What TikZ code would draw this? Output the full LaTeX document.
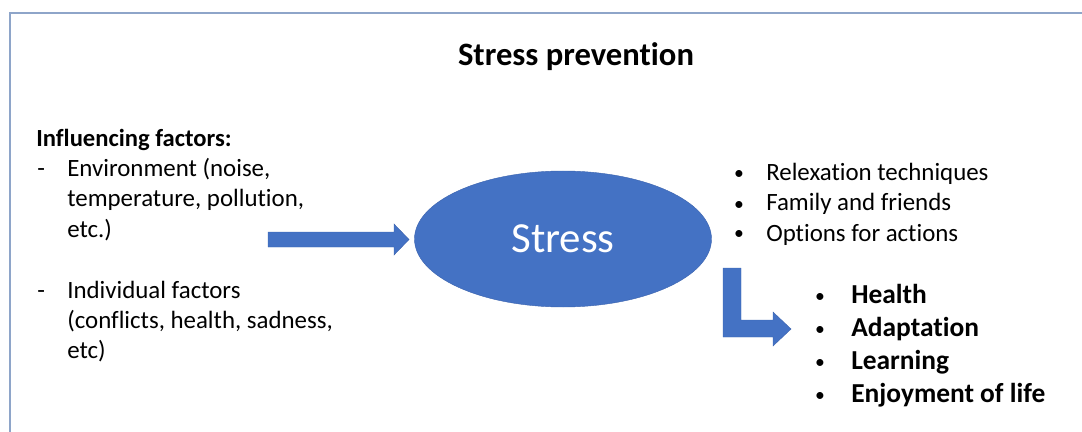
\documentclass[tikz,border=0pt]{standalone}
\usepackage{fontspec}
\setmainfont{Carlito}[Ligatures=NoCommon]
\usetikzlibrary{shapes.geometric}
\definecolor{stressblue}{RGB}{68,114,196}
\definecolor{stressline}{RGB}{60,100,175}
\definecolor{framecol}{RGB}{142,165,201}
\begin{document}
\begin{tikzpicture}[x=0.025cm,y=-0.025cm]
		\tikzset{txt/.style = {anchor=base west, inner sep=0pt, font=\fontsize{17.7}{21.3}\selectfont}}
		\tikzset{boldtxt/.style = {txt, font=\bfseries\fontsize{19.5}{23.5}\selectfont}}
		\tikzset{dot/.style = {anchor=base, inner sep=0pt, font=\fontsize{14}{21.3}\selectfont}}
		\tikzset{blockarrow/.style = {fill=stressblue, draw=stressline, line width=0.3pt}}
		\useasboundingbox (0,0) rectangle (1082,432);
		% frame
		\draw[framecol, line width=1.1pt] (10,432) -- (10,13) -- (1082,13);
		\node[anchor=base, inner sep=0pt, font=\bfseries\fontsize{23.2}{28}\selectfont] (title) at (576,66) {Stress prevention};
		% left side
		\node[txt, font=\bfseries\fontsize{17.5}{21.3}\selectfont] (factors) at (36,147) {Influencing factors:};
		\node[txt] (dash1) at (37,177) {-};
		\node[txt] (env1) at (67,177) {Environment (noise,};
		\node[txt] (env2) at (67,207) {temperature, pollution,};
		\node[txt] (env3) at (67,237) {etc.)};
		\node[txt] (dash2) at (37,298) {-};
		\node[txt] (ind1) at (67,298) {Individual factors};
		\node[txt] (ind2) at (67,328) {(conflicts, health, sadness,};
		\node[txt] (ind3) at (67,358) {etc)};
		% centre
		\node[ellipse, fill=stressblue, draw=stressline, line width=0.3pt, minimum width=297*0.025cm, minimum height=136*0.025cm, inner sep=0pt, text=white, font=\fontsize{30.5}{36}\selectfont] (stress) at (563,239) {Stress};
		\fill[blockarrow] (268,232) -- (394,232) -- (394,224) -- (409,239.5) -- (394,255) -- (394,247) -- (268,247) -- cycle;
		\fill[blockarrow] (723,268) -- (741,268) -- (741,320) -- (773,320) -- (773,312) -- (791,329) -- (773,346) -- (773,337) -- (723,337) -- cycle;
		% right side
		\node[dot] (b1) at (739,180) {\textbullet};
		\node[dot] (b2) at (739,210) {\textbullet};
		\node[dot] (b3) at (739,240) {\textbullet};
		\node[txt] (relax) at (766,181) {Relexation techniques};
		\node[txt] (family) at (766,211) {Family and friends};
		\node[txt] (options) at (766,241) {Options for actions};
		\node[dot] (c1) at (820,302) {\textbullet};
		\node[dot] (c2) at (820,335) {\textbullet};
		\node[dot] (c3) at (820,368) {\textbullet};
		\node[dot] (c4) at (820,401) {\textbullet};
		\node[boldtxt] (health) at (851,303) {Health};
		\node[boldtxt] (adapt) at (851,336) {Adaptation};
		\node[boldtxt] (learn) at (851,369) {Learning};
		\node[boldtxt] (enjoy) at (851,402) {Enjoyment of life};
	\end{tikzpicture}
\end{document}
